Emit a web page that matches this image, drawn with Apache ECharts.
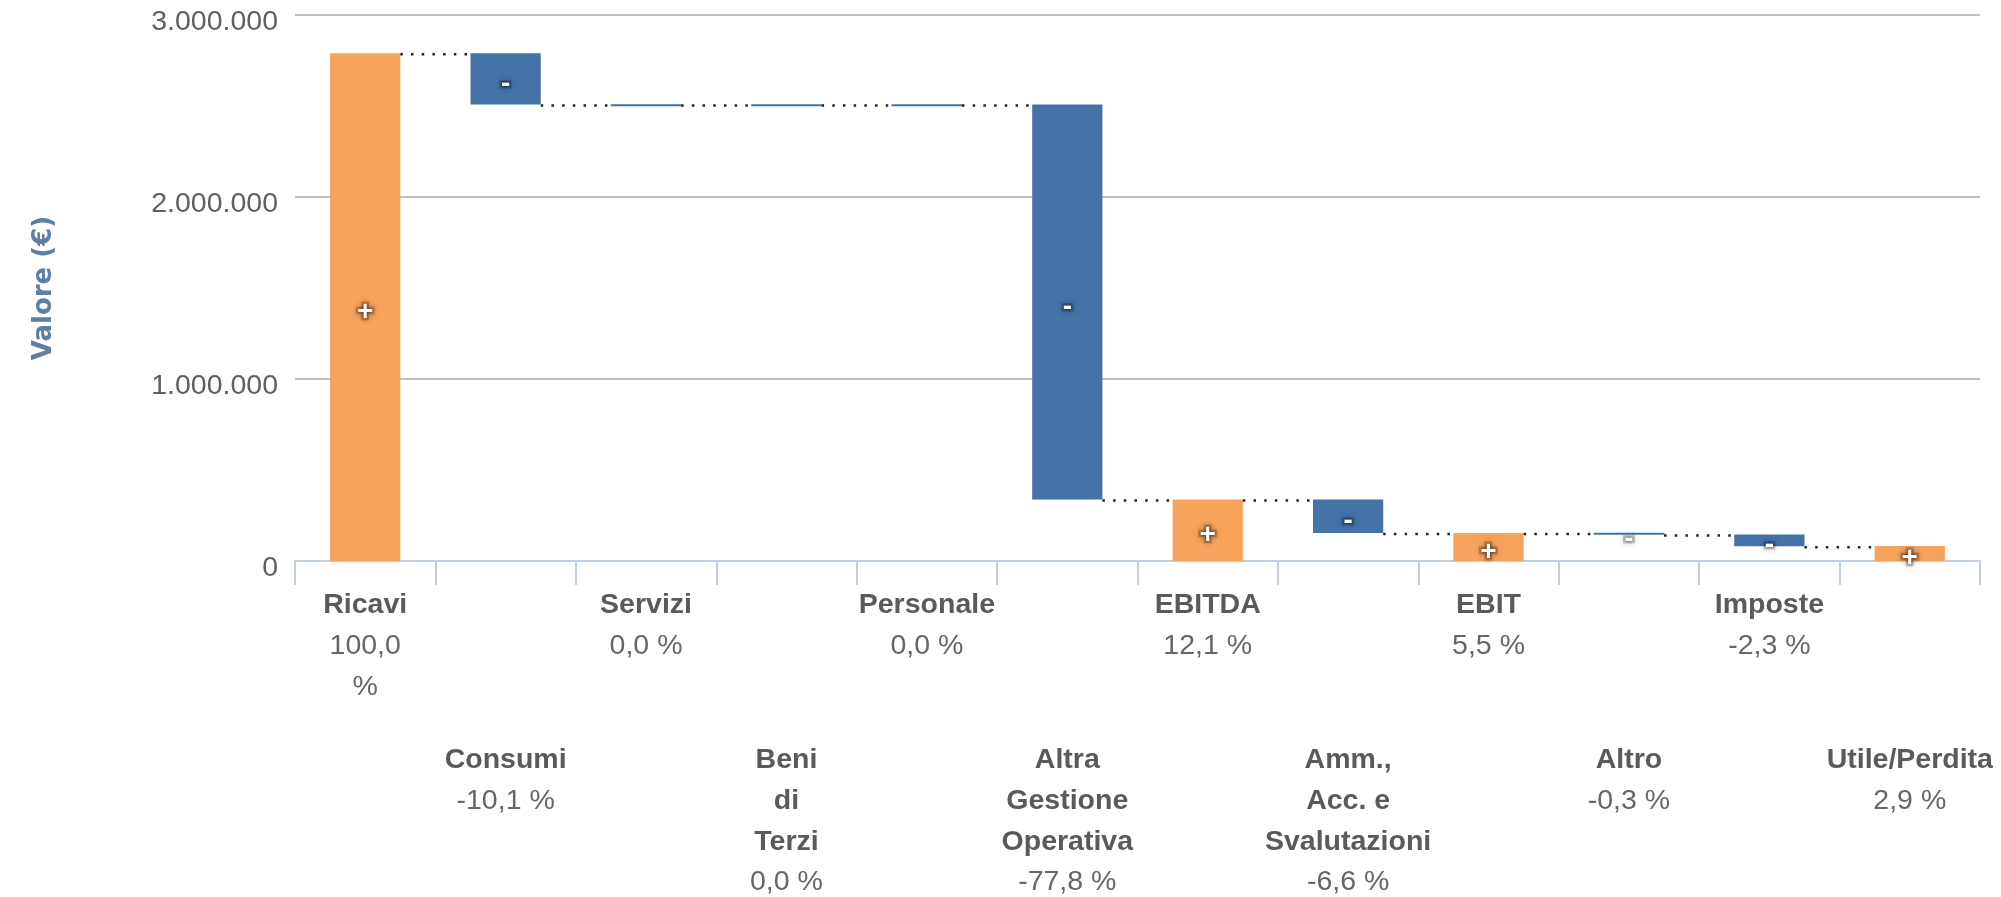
<!DOCTYPE html>
<html>
<head>
<meta charset="utf-8">
<script src="https://cdn.jsdelivr.net/npm/echarts@6/dist/echarts.min.js"></script>
<style>
html,body{margin:0;padding:0;background:#fff;}
#c{width:2001px;height:897px;}
</style>
</head>
<body>
<div id="c"></div>
<script>
// ---- data ----
const categories = ['Ricavi', 'Consumi', 'Servizi', 'Beni di Terzi', 'Personale', 'Altra Gestione Operativa', 'EBITDA', 'Amm., Acc. e Svalutazioni', 'EBIT', 'Altro', 'Imposte', 'Utile/Perdita'];
// label lines as shown under the axis (wrapped)
const categoryLines = [['Ricavi'], ['Consumi'], ['Servizi'], ['Beni', 'di', 'Terzi'], ['Personale'], ['Altra', 'Gestione', 'Operativa'], ['EBITDA'], ['Amm.,', 'Acc. e', 'Svalutazioni'], ['EBIT'], ['Altro'], ['Imposte'], ['Utile/Perdita']];
const values = [2790000, -282000, 0, 0, 0, -2170000, 338000, -184000, 154000, -8400, -64000, 82000];
const isTotal = [true, false, false, false, false, false, true, false, true, false, false, true];
const percentLines = [['100,0', '%'], ['-10,1 %'], ['0,0 %'], ['0,0 %'], ['0,0 %'], ['-77,8 %'], ['12,1 %'], ['-6,6 %'], ['5,5 %'], ['-0,3 %'], ['-2,3 %'], ['2,9 %']];
const yTicks = [0, 1000000, 2000000, 3000000];

// ---- build waterfall items ----
const items = [];
let running = 0;
for (let i = 0; i < values.length; i++) {
  let s, e;
  if (isTotal[i]) { s = 0; e = values[i]; running = values[i]; }
  else { s = running; e = running + values[i]; running = e; }
  const orange = isTotal[i] || values[i] > 0 ? 1 : 0;
  const sign = isTotal[i] || values[i] > 0 ? 1 : (values[i] < 0 ? -1 : 0);
  items.push([i, s, e, orange, sign]);
}
const n = items.length;

const FONT = '"Liberation Sans", Arial, Helvetica, sans-serif';
const TFONT = '"DejaVu Sans", Verdana, sans-serif';
const ORANGE = '#F7A35C', BLUE = '#4572A7';

function fmt(v) {
  return String(v).replace(/\B(?=(\d{3})+(?!\d))/g, '.');
}

function renderItem(params, api) {
  const i = api.value(0), s = api.value(1), e = api.value(2);
  const orange = api.value(3), sign = api.value(4);
  const band = api.size([1, 0])[0];
  const w = band * 0.5;
  const pS = api.coord([i, s]);
  const pE = api.coord([i, e]);
  let top = Math.min(pS[1], pE[1]);
  let h = Math.abs(pS[1] - pE[1]);
  if (h < 1.5) h = 1.5;
  const color = orange ? ORANGE : BLUE;
  const children = [{
    type: 'rect',
    shape: { x: pS[0] - w / 2, y: top, width: w, height: h },
    style: { fill: color, stroke: color, lineWidth: (h > 3 ? 0 : 0.5) }
  }];
  if (i < n - 1) {
    const pN = api.coord([i + 1, e]);
    children.push({
      type: 'line',
      shape: { x1: pE[0] + w / 2, y1: pE[1] + 1, x2: pN[0] - w / 2, y2: pE[1] + 1 },
      style: { stroke: '#222', lineWidth: 2.5, lineDash: [2.5, 8.2] }
    });
  }
  if (sign !== 0) {
    const txt = sign > 0 ? '+' : '-';
    // soft dark glow behind the sign
    children.push({
      type: 'text',
      x: pS[0],
      y: top + h / 2 + 5,
      style: {
        text: txt,
        fill: 'rgba(0,0,0,0.5)',
        stroke: 'rgba(0,0,0,0.18)',
        lineWidth: 5,
        font: 'bold 28px ' + FONT,
        align: 'center',
        verticalAlign: 'middle',
        textShadowColor: 'rgba(0,0,0,0.6)',
        textShadowBlur: 7
      },
      z2: 9
    });
    children.push({
      type: 'text',
      x: pS[0],
      y: top + h / 2 + 5,
      style: {
        text: txt,
        fill: '#fff',
        font: 'bold 28px ' + FONT,
        align: 'center',
        verticalAlign: 'middle',
        textShadowColor: 'rgba(0,0,0,0.6)',
        textShadowBlur: 3
      },
      z2: 10
    });
  }
  return { type: 'group', children: children };
}

const chart = echarts.init(document.getElementById('c'), null, { renderer: 'canvas' });
chart.setOption({
  animation: false,
  backgroundColor: '#fff',
  grid: { left: 295, right: 21, top: 15, bottom: 334, containLabel: false },
  xAxis: {
    type: 'category',
    data: categories,
    offset: 3,
    axisLine: { show: true, lineStyle: { color: '#C0D0E0', width: 2 } },
    axisTick: { show: true, length: 24, lineStyle: { color: '#C0D0E0', width: 2 } },
    splitLine: { show: false },
    axisLabel: {
      interval: 0,
      margin: 21,
      verticalAlign: 'top',
      formatter: function (val, idx) {
        const parts = [];
        if (idx % 2 === 1) parts.push('{sp| }');
        categoryLines[idx].forEach(l => parts.push('{b|' + l + '}'));
        percentLines[idx].forEach(l => parts.push('{p|' + l + '}'));
        return parts.join('\n');
      },
      rich: {
        b: { fontFamily: FONT, fontSize: 28.5, fontWeight: 'bold', color: '#5a5a5a', lineHeight: 40.7, align: 'center' },
        p: { fontFamily: FONT, fontSize: 28.5, color: '#666', lineHeight: 40.7, align: 'center' },
        sp: { fontSize: 2, lineHeight: 155 }
      }
    }
  },
  yAxis: {
    type: 'value',
    min: yTicks[0],
    max: yTicks[yTicks.length - 1],
    interval: yTicks[1] - yTicks[0],
    name: 'Valore (€)',
    nameLocation: 'middle',
    nameGap: 238,
    nameTextStyle: { fontFamily: TFONT, fontSize: 26, fontWeight: 'bold', color: '#5d7fa3' },
    axisLine: { show: false },
    axisTick: { show: false },
    axisLabel: {
      fontFamily: FONT, fontSize: 28.5, color: '#606060', margin: 17,
      verticalAlign: 'top', lineHeight: 14,
      formatter: function (v) { return fmt(v); }
    },
    splitLine: { show: true, lineStyle: { color: ['#A6A6A6', '#C0C0C0', '#C0C0C0', '#C0C0C0'], width: 2 } }
  },
  series: [{
    type: 'custom',
    renderItem: renderItem,
    encode: { x: 0, y: [1, 2] },
    data: items,
    clip: false
  }]
});
</script>
</body>
</html>
